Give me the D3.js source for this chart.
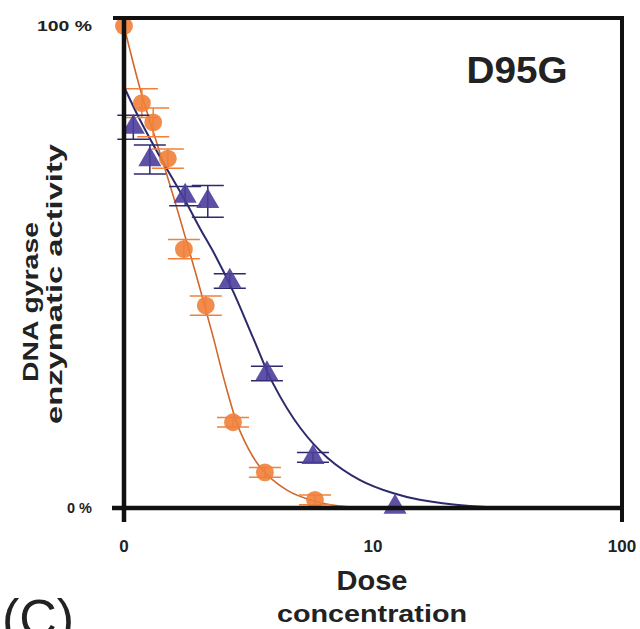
<!DOCTYPE html>
<html lang="en">
  <head>
    <meta charset="utf-8">
    <title>D95G</title>
    <style>
        body { margin: 0; background: #fff; }
        svg { display: block; }
        text { font-family: Arial, "Liberation Sans", sans-serif; fill: #222; }
    </style>
    <script src="https://d3js.org/d3.v7.min.js"></script>
  </head>
  <body>
    <script>

    // dose values (the "0" dose is drawn at 1 on the log axis)
    const orangeDose = [1, 1.18, 1.31, 1.5, 1.74, 2.13, 2.74, 3.68, 5.85];
    const orangeAct  = [100, 84, 80, 72.5, 53.7, 42, 17.8, 7.4, 1.7];
    const orangeErr  = [0, 3, 3, 2, 2, 2, 1, 1, 1];

    const purpleDose = [1.09, 1.27, 1.76, 2.17, 2.66, 3.75, 5.74, 12.26];
    const purpleAct  = [79, 72.3, 64.7, 63.6, 47.1, 27.9, 10.5, 0.2];
    const purpleErr  = [2.5, 3, 2, 3.3, 1.5, 1.5, 1, 0];

    // fitted curves
    const orangeFitDose = [1, 1.16, 1.33, 1.53, 1.79, 2.02, 2.28, 2.59, 2.92, 3.52, 4.51, 5.74, 7.37, 9.7];
    const orangeFitAct  = [100, 87, 77, 67, 55, 45.5, 35.5, 24.5, 16, 8.5, 3.7, 1.5, 0.4, 0];
    const purpleFitDose = [1, 1.16, 1.39, 1.76, 2.02, 2.32, 2.74, 3.3, 3.97, 5.09, 6.54, 8.87, 12, 15.4, 24.5, 38.9];
    const purpleFitAct  = [87.4, 80.5, 73, 63.8, 58, 52.5, 45, 35.3, 25.8, 16.7, 10.5, 5.8, 3.1, 1.7, 0.4, 0];

    const xTicks = [1, 10, 100];
    const xTickLabels = ["0", "10", "100"];
    const yTicks = [0, 100];
    const yTickLabels = ["0 %", "100 %"];

    const W = 640, H = 629;
    const plotLeft = 124, plotRight = 622, plotTop = 18, plotBottom = 508;

    const svg = d3.select("body").append("svg")
        .attr("width", W)
        .attr("height", H);

    const x = d3.scaleLog().domain([1, 100]).range([plotLeft, plotRight]);
    const y = d3.scaleLinear().domain([0, 100]).range([plotBottom, 26]);

    const orange = "#f0803a", orangeLine = "#d0682c";
    const purple = "#4b3d9b", purpleLine = "#2c2a6c";

    // curves
    const line = d3.line()
        .x(d => x(d[0]))
        .y(d => y(d[1]))
        .curve(d3.curveCatmullRom.alpha(0.5));

    svg.append("path")
        .datum(d3.zip(orangeFitDose, orangeFitAct))
        .attr("fill", "none")
        .attr("stroke", orangeLine)
        .attr("stroke-width", 1.6)
        .attr("d", line);

    svg.append("path")
        .datum(d3.zip(purpleFitDose, purpleFitAct))
        .attr("fill", "none")
        .attr("stroke", purpleLine)
        .attr("stroke-width", 2)
        .attr("d", line);

    // error bars + markers
    function drawSeries(dose, act, err, col, capCol, sym, size) {
        const data = d3.zip(dose, act, err);
        const g = svg.append("g");
        data.forEach(d => {
            if (d[2] > 0) {
                [d[1] + d[2], d[1] - d[2]].forEach(v => {
                    g.append("line")
                        .attr("x1", x(d[0]) - 16).attr("x2", x(d[0]) + 16)
                        .attr("y1", y(v)).attr("y2", y(v))
                        .attr("stroke", capCol)
                        .attr("stroke-width", 1.5);
                });
                g.append("line")
                    .attr("x1", x(d[0])).attr("x2", x(d[0]))
                    .attr("y1", y(d[1] + d[2])).attr("y2", y(d[1] - d[2]))
                    .attr("stroke", capCol)
                    .attr("stroke-width", 1.5);
            }
        });
        g.selectAll("path.m")
            .data(data)
            .join("path")
            .attr("class", "m")
            .attr("transform", d => `translate(${x(d[0])},${y(d[1])})`)
            .attr("d", d3.symbol().type(sym).size(size))
            .attr("fill", col)
            .attr("opacity", 0.9);
    }

    drawSeries(orangeDose, orangeAct, orangeErr, orange, orange, d3.symbolCircle, 250);
    drawSeries(purpleDose, purpleAct, purpleErr, purple, purpleLine, d3.symbolTriangle, 230);

    // frame
    const frame = svg.append("g").attr("stroke", "#111").attr("fill", "none");
    frame.append("line").attr("x1", 113).attr("x2", plotRight + 2).attr("y1", plotTop).attr("y2", plotTop).attr("stroke-width", 4);
    frame.append("line").attr("x1", plotRight).attr("x2", plotRight).attr("y1", plotTop).attr("y2", 522).attr("stroke-width", 4);
    frame.append("line").attr("x1", plotLeft).attr("x2", plotLeft).attr("y1", plotTop - 2).attr("y2", 522).attr("stroke-width", 4.5);
    frame.append("line").attr("x1", 112).attr("x2", plotRight).attr("y1", plotBottom).attr("y2", plotBottom).attr("stroke-width", 4.5);

    // y tick labels
    svg.selectAll("text.yt")
        .data(d3.zip(yTicks, yTickLabels, [25, 55]))
        .join("text")
        .attr("class", "yt")
        .attr("x", 92)
        .attr("y", d => y(d[0]) + 5)
        .attr("text-anchor", "end")
        .attr("textLength", d => d[2])
        .attr("lengthAdjust", "spacingAndGlyphs")
        .style("font-size", "15px")
        .style("font-weight", "bold")
        .text(d => d[1]);

    // x tick labels
    svg.selectAll("text.xt")
        .data(d3.zip(xTicks, xTickLabels))
        .join("text")
        .attr("class", "xt")
        .attr("x", d => x(d[0]))
        .attr("y", 552)
        .attr("text-anchor", "middle")
        .style("font-size", "17px")
        .style("font-weight", "bold")
        .text(d => d[1]);

    // axis titles
    svg.append("text")
        .attr("x", 372).attr("y", 590)
        .attr("text-anchor", "middle")
        .attr("textLength", 71)
        .attr("lengthAdjust", "spacingAndGlyphs")
        .style("font-size", "28px")
        .style("font-weight", "bold")
        .text("Dose");

    svg.append("text")
        .attr("x", 372).attr("y", 622)
        .attr("text-anchor", "middle")
        .attr("textLength", 190)
        .attr("lengthAdjust", "spacingAndGlyphs")
        .style("font-size", "24px")
        .style("font-weight", "bold")
        .text("concentration");

    svg.append("text")
        .attr("transform", "translate(38,302) rotate(-90)")
        .attr("text-anchor", "middle")
        .attr("textLength", 160)
        .attr("lengthAdjust", "spacingAndGlyphs")
        .style("font-size", "22px")
        .style("font-weight", "bold")
        .text("DNA gyrase");

    svg.append("text")
        .attr("transform", "translate(62,284) rotate(-90)")
        .attr("text-anchor", "middle")
        .attr("textLength", 280)
        .attr("lengthAdjust", "spacingAndGlyphs")
        .style("font-size", "22px")
        .style("font-weight", "bold")
        .text("enzymatic activity");

    svg.append("text")
        .attr("x", 517).attr("y", 83)
        .attr("text-anchor", "middle")
        .attr("textLength", 101)
        .attr("lengthAdjust", "spacingAndGlyphs")
        .style("font-size", "36px")
        .style("font-weight", "bold")
        .text("D95G");

    svg.append("text")
        .attr("x", 2).attr("y", 636)
        .style("font-size", "52px")
        .text("(C)");

    </script>
  </body>
</html>
